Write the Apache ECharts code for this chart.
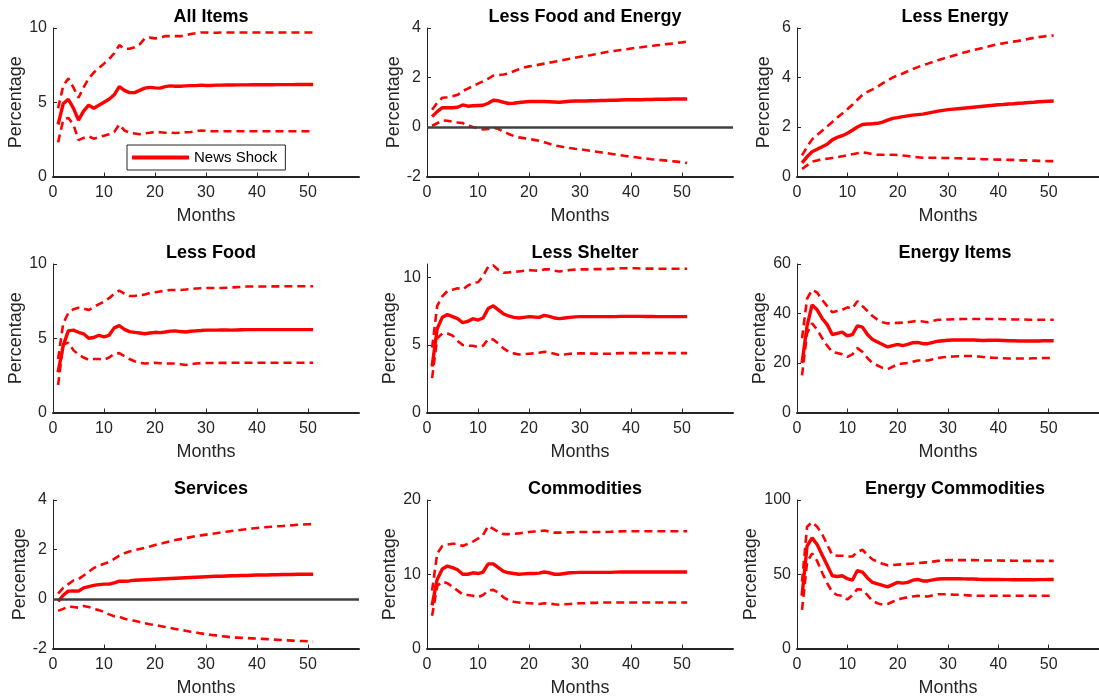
<!DOCTYPE html>
<html>
<head>
<meta charset="utf-8">
<title>News Shock Responses</title>
<script src="https://cdn.jsdelivr.net/npm/echarts@6/dist/echarts.min.js"></script>
<style>
  html, body { margin: 0; padding: 0; background: #fff; }
  #chart { width: 1099px; height: 700px; }
</style>
</head>
<body>
<div id="chart"></div>
<script>
// Impulse responses (percent) to a news shock, months 1..51, with upper/lower bands.
const PANEL_TITLES = ['All Items', 'Less Food and Energy', 'Less Energy',
  'Less Food', 'Less Shelter', 'Energy Items',
  'Services', 'Commodities', 'Energy Commodities'];
const Y_MIN = [0, -2, 0, 0, 0, 0, -2, 0, 0];
const Y_MAX = [10, 4, 6, 10, 11, 60, 4, 20, 100];
const Y_TICKS = [[0, 5, 10], [-2, 0, 2, 4], [0, 2, 4, 6], [0, 5, 10], [0, 5, 10],
  [0, 20, 40, 60], [-2, 0, 2, 4], [0, 10, 20], [0, 50, 100]];
const X_TICKS = [0, 10, 20, 30, 40, 50];
const LEGEND_LABEL = 'News Shock';

const allItemsMid = [3.5,4.9,5.2,4.6,3.8,4.4,4.8,4.6,4.8,5.0,5.2,5.5,6.05,5.8,5.65,5.65,5.8,5.95,6.0,5.97,5.95,6.05,6.1,6.08,6.08,6.1,6.12,6.12,6.15,6.13,6.13,6.15,6.15,6.16,6.16,6.17,6.17,6.17,6.18,6.18,6.18,6.18,6.18,6.19,6.19,6.19,6.19,6.2,6.2,6.2,6.2];
const allItemsUp = [4.6,6.1,6.6,6.0,5.3,6.0,6.6,7.0,7.3,7.6,7.9,8.3,8.85,8.6,8.6,8.7,8.9,9.3,9.35,9.3,9.35,9.45,9.45,9.45,9.45,9.5,9.6,9.65,9.7,9.7,9.68,9.68,9.7,9.7,9.7,9.7,9.7,9.7,9.7,9.7,9.7,9.7,9.7,9.7,9.7,9.7,9.7,9.7,9.7,9.7,9.7];
const allItemsLo = [2.3,3.8,3.95,3.5,2.45,2.6,2.7,2.55,2.65,2.75,2.85,3.0,3.5,3.1,2.95,2.9,2.85,2.9,2.95,3.0,2.98,2.95,2.95,2.93,2.95,2.98,3.0,3.05,3.1,3.08,3.05,3.05,3.05,3.05,3.05,3.05,3.05,3.05,3.05,3.05,3.05,3.05,3.05,3.05,3.05,3.05,3.05,3.05,3.05,3.05,3.05];

const lessFoodEnergyMid = [0.42,0.62,0.78,0.78,0.78,0.8,0.89,0.84,0.86,0.87,0.88,0.96,1.08,1.06,1.0,0.95,0.96,0.99,1.01,1.03,1.03,1.03,1.03,1.02,1.01,1.0,1.02,1.04,1.05,1.05,1.05,1.06,1.06,1.07,1.07,1.08,1.08,1.09,1.1,1.1,1.1,1.1,1.11,1.11,1.12,1.12,1.12,1.13,1.13,1.13,1.13];
const lessFoodEnergyUp = [0.7,0.98,1.18,1.2,1.24,1.3,1.45,1.55,1.65,1.75,1.85,1.95,2.08,2.1,2.12,2.16,2.25,2.33,2.4,2.45,2.48,2.52,2.56,2.6,2.64,2.68,2.72,2.76,2.8,2.84,2.87,2.9,2.94,2.98,3.02,3.05,3.08,3.11,3.14,3.17,3.2,3.22,3.25,3.27,3.3,3.32,3.35,3.37,3.4,3.42,3.45];
const lessFoodEnergyLo = [0.05,0.15,0.27,0.25,0.22,0.18,0.16,0.06,0.0,-0.05,-0.1,-0.08,-0.02,-0.08,-0.18,-0.28,-0.36,-0.42,-0.45,-0.48,-0.52,-0.56,-0.62,-0.68,-0.74,-0.78,-0.82,-0.85,-0.88,-0.9,-0.93,-0.96,-0.99,-1.02,-1.05,-1.08,-1.11,-1.14,-1.17,-1.2,-1.22,-1.25,-1.27,-1.3,-1.32,-1.34,-1.36,-1.38,-1.4,-1.43,-1.45];

const lessEnergyMid = [0.55,0.8,1.0,1.1,1.2,1.3,1.48,1.58,1.65,1.75,1.87,2.0,2.1,2.12,2.13,2.15,2.2,2.28,2.35,2.38,2.42,2.45,2.48,2.5,2.52,2.56,2.6,2.64,2.67,2.7,2.72,2.74,2.76,2.78,2.8,2.82,2.84,2.86,2.88,2.9,2.91,2.93,2.94,2.96,2.97,2.99,3.0,3.02,3.03,3.04,3.05];
const lessEnergyUp = [0.85,1.2,1.5,1.68,1.85,2.02,2.2,2.38,2.55,2.72,2.9,3.1,3.3,3.42,3.52,3.63,3.76,3.88,4.0,4.08,4.16,4.25,4.34,4.42,4.5,4.56,4.63,4.7,4.76,4.82,4.88,4.94,5.0,5.05,5.1,5.15,5.2,5.25,5.3,5.35,5.38,5.42,5.45,5.48,5.52,5.56,5.6,5.63,5.66,5.68,5.7];
const lessEnergyLo = [0.3,0.45,0.6,0.65,0.7,0.72,0.75,0.78,0.82,0.86,0.9,0.94,0.97,0.95,0.9,0.88,0.88,0.88,0.88,0.87,0.85,0.83,0.8,0.78,0.76,0.76,0.76,0.76,0.75,0.75,0.74,0.74,0.73,0.72,0.72,0.71,0.7,0.7,0.69,0.68,0.68,0.67,0.67,0.66,0.65,0.65,0.64,0.63,0.63,0.62,0.62];

const lessFoodMid = [2.7,4.5,5.5,5.55,5.4,5.3,5.0,5.05,5.2,5.1,5.2,5.7,5.85,5.6,5.45,5.4,5.35,5.3,5.35,5.4,5.38,5.42,5.48,5.5,5.45,5.42,5.47,5.5,5.52,5.55,5.55,5.55,5.56,5.56,5.55,5.56,5.57,5.58,5.58,5.58,5.58,5.58,5.58,5.58,5.58,5.58,5.58,5.58,5.58,5.58,5.58];
const lessFoodUp = [3.6,6.0,6.7,6.95,7.05,7.0,6.9,7.1,7.3,7.45,7.7,8.0,8.2,8.0,7.85,7.85,7.9,7.95,8.05,8.1,8.15,8.2,8.25,8.25,8.25,8.28,8.32,8.35,8.37,8.38,8.38,8.38,8.38,8.4,8.42,8.44,8.46,8.48,8.48,8.48,8.48,8.48,8.49,8.49,8.5,8.5,8.5,8.5,8.5,8.5,8.5];
const lessFoodLo = [1.85,4.6,4.7,4.2,3.9,3.7,3.55,3.6,3.6,3.55,3.7,3.95,4.0,3.8,3.6,3.45,3.35,3.3,3.32,3.35,3.32,3.3,3.3,3.3,3.25,3.2,3.25,3.3,3.32,3.33,3.33,3.33,3.34,3.34,3.35,3.35,3.35,3.35,3.35,3.35,3.35,3.35,3.35,3.35,3.35,3.35,3.35,3.35,3.35,3.35,3.35];

const lessShelterMid = [3.4,6.2,7.05,7.25,7.1,6.95,6.65,6.75,6.95,6.85,7.0,7.7,7.9,7.6,7.3,7.15,7.05,7.0,7.05,7.1,7.07,7.05,7.2,7.12,7.0,6.95,7.0,7.05,7.08,7.1,7.1,7.1,7.1,7.1,7.1,7.1,7.1,7.12,7.12,7.12,7.12,7.12,7.11,7.11,7.1,7.1,7.1,7.1,7.1,7.1,7.1];
const lessShelterUp = [4.8,7.9,8.6,9.0,9.1,9.2,9.1,9.4,9.6,9.65,10.1,10.8,10.9,10.55,10.35,10.38,10.42,10.45,10.5,10.55,10.52,10.5,10.6,10.6,10.5,10.45,10.5,10.55,10.58,10.6,10.6,10.6,10.62,10.62,10.62,10.64,10.66,10.68,10.68,10.68,10.68,10.67,10.66,10.66,10.65,10.65,10.65,10.65,10.65,10.65,10.65];
const lessShelterLo = [2.55,5.5,5.85,5.85,5.7,5.3,5.0,4.95,4.95,4.85,4.95,5.45,5.4,5.1,4.75,4.5,4.38,4.3,4.32,4.35,4.38,4.42,4.5,4.45,4.35,4.25,4.3,4.35,4.37,4.38,4.38,4.37,4.36,4.35,4.35,4.36,4.38,4.4,4.4,4.4,4.4,4.4,4.4,4.4,4.4,4.4,4.4,4.4,4.4,4.4,4.4];

const energyItemsMid = [20,35,43.5,41.5,38,35.5,31.5,32,32.5,31,31.5,35,34.5,31.5,29.5,28.5,27.5,26.5,27,27.5,27,27.5,28.2,28.3,27.8,27.8,28.3,28.8,29,29.2,29.3,29.3,29.3,29.3,29.3,29.2,29.1,29.2,29.2,29.2,29.1,29.0,29.0,28.9,28.9,28.9,28.9,28.9,29.0,29.0,29.0];
const energyItemsUp = [30,46,49.5,48.5,45.5,43,40.5,41,41.5,42.5,42,45,43,41,39,37.5,36.5,36,36.1,36.2,36.3,36.5,36.8,37,36.8,36.5,37,37.5,37.5,37.6,37.7,37.7,37.8,37.8,37.8,37.8,37.8,37.8,37.8,37.8,37.7,37.7,37.6,37.6,37.6,37.5,37.5,37.5,37.5,37.5,37.5];
const energyItemsLo = [15,32,36,33.5,30,27,24.5,24,23.5,22.5,23.5,26,24.5,22,20,19,18,17.5,18.5,19.5,19.8,20,20.5,21,21,21,21.5,22,22.3,22.5,22.6,22.7,22.8,22.8,22.8,22.6,22.4,22.2,22.1,22,21.9,21.8,21.8,21.8,21.8,21.8,21.9,21.9,22,22,22];

const servicesMid = [-0.1,0.15,0.32,0.33,0.32,0.45,0.5,0.55,0.58,0.6,0.6,0.65,0.72,0.72,0.73,0.76,0.77,0.78,0.79,0.8,0.81,0.82,0.83,0.84,0.85,0.86,0.87,0.88,0.89,0.9,0.91,0.92,0.92,0.93,0.94,0.94,0.95,0.95,0.96,0.97,0.97,0.97,0.98,0.98,0.99,0.99,0.99,1.0,1.0,1.0,1.0];
const servicesUp = [0.22,0.45,0.6,0.75,0.8,0.95,1.1,1.25,1.35,1.42,1.5,1.62,1.75,1.85,1.92,1.97,2.02,2.07,2.12,2.18,2.23,2.28,2.33,2.38,2.42,2.46,2.5,2.54,2.57,2.6,2.63,2.66,2.69,2.72,2.75,2.77,2.8,2.82,2.85,2.87,2.89,2.91,2.92,2.94,2.95,2.97,2.98,3.0,3.01,3.02,3.03];
const servicesLo = [-0.48,-0.4,-0.3,-0.32,-0.35,-0.28,-0.32,-0.4,-0.45,-0.52,-0.62,-0.7,-0.72,-0.8,-0.85,-0.88,-0.93,-0.98,-1.02,-1.05,-1.09,-1.13,-1.17,-1.21,-1.25,-1.28,-1.32,-1.35,-1.39,-1.42,-1.45,-1.47,-1.5,-1.52,-1.55,-1.56,-1.57,-1.58,-1.59,-1.6,-1.61,-1.62,-1.64,-1.65,-1.66,-1.67,-1.68,-1.69,-1.7,-1.71,-1.72];

const commoditiesMid = [5.8,9.3,10.7,11.1,10.9,10.6,10.0,10.0,10.2,10.1,10.3,11.4,11.4,10.9,10.4,10.2,10.1,10.0,10.05,10.1,10.1,10.15,10.3,10.2,10.0,10.0,10.1,10.2,10.22,10.25,10.25,10.25,10.25,10.25,10.25,10.25,10.28,10.3,10.3,10.3,10.3,10.3,10.3,10.3,10.3,10.3,10.3,10.3,10.3,10.3,10.3];
const commoditiesUp = [7.8,12.8,13.8,14.0,14.1,14.1,13.8,14.1,14.4,14.8,15.3,16.5,16.1,15.7,15.4,15.4,15.45,15.5,15.6,15.7,15.75,15.8,15.9,15.75,15.6,15.6,15.6,15.65,15.7,15.7,15.7,15.7,15.7,15.7,15.7,15.72,15.75,15.78,15.8,15.8,15.8,15.8,15.8,15.8,15.8,15.8,15.8,15.8,15.8,15.8,15.8];
const commoditiesLo = [4.4,8.4,9.0,8.8,8.3,7.8,7.3,7.2,7.1,6.9,7.2,7.8,7.9,7.5,6.9,6.5,6.3,6.2,6.15,6.1,6.05,6.0,6.1,6.05,5.95,5.9,5.95,6.0,6.05,6.1,6.1,6.15,6.15,6.2,6.2,6.2,6.2,6.2,6.2,6.2,6.2,6.2,6.2,6.2,6.2,6.2,6.2,6.2,6.2,6.2,6.2];

const energyCommMid = [35.5,69,74.5,70,63,56,49,48.5,49,47,46,52.5,51.5,47.5,44.5,43.5,42.5,41.5,43,44.5,44,44.5,46,46.5,45.5,45.5,46.2,46.8,47,47,47,47,46.9,46.8,46.8,46.6,46.5,46.5,46.5,46.5,46.4,46.4,46.3,46.3,46.3,46.3,46.3,46.4,46.4,46.5,46.5];
const energyCommUp = [45,82,85,82,77,70,63,62.5,62.5,62,62,65,66.5,63,60,58.5,57,56,56.2,56.5,56.7,57,57.2,57.5,57.8,58,58.5,59,59.3,59.5,59.5,59.5,59.5,59.5,59.5,59.4,59.3,59.3,59.3,59.3,59.2,59.2,59.1,59.1,59,59,59,59,59,59,59];
const energyCommLo = [26,58,64,59,51,44,38,36,35.5,33,36,40,39.5,36,32,30.5,29.5,30,31.5,33,33.8,34.5,35,35.5,35.2,35,35.8,36.5,36.5,36.5,36.3,36.2,36,35.8,35.5,35.5,35.5,35.5,35.5,35.5,35.5,35.5,35.5,35.5,35.5,35.5,35.5,35.5,35.5,35.5,35.5];

const MID = [allItemsMid, lessFoodEnergyMid, lessEnergyMid, lessFoodMid, lessShelterMid, energyItemsMid, servicesMid, commoditiesMid, energyCommMid];
const UP  = [allItemsUp, lessFoodEnergyUp, lessEnergyUp, lessFoodUp, lessShelterUp, energyItemsUp, servicesUp, commoditiesUp, energyCommUp];
const LO  = [allItemsLo, lessFoodEnergyLo, lessEnergyLo, lessFoodLo, lessShelterLo, energyItemsLo, servicesLo, commoditiesLo, energyCommLo];
const ZERO_LINE_PANELS = [1, 6];

// ---- layout ----
const COL_LEFT = [53, 427, 797];
const ROW_TOP = [28, 264, 500];
const PLOT_W = 306;
const PLOT_H = 148.5;
const RED = '#ff0000';
const INK = '#262626';
const FONT = '"Liberation Sans", Arial, Helvetica, sans-serif';

const toPairs = arr => arr.map((v, i) => [i + 1, v]);

const grids = [], xAxes = [], yAxes = [], titles = [], series = [];
for (let p = 0; p < 9; p++) {
  const col = p % 3, row = Math.floor(p / 3);
  grids.push({ left: COL_LEFT[col], top: ROW_TOP[row], width: PLOT_W, height: PLOT_H, containLabel: false });
  titles.push({
    text: PANEL_TITLES[p],
    left: COL_LEFT[col] + PLOT_W / 2,
    top: ROW_TOP[row] - 25,
    textAlign: 'center',
    textStyle: { fontFamily: FONT, fontSize: 18, fontWeight: 'bold', color: '#000' }
  });
  xAxes.push({
    type: 'value', gridIndex: p, min: 0, max: 60,
    name: 'Months', nameLocation: 'middle', nameGap: 31,
    nameTextStyle: { fontFamily: FONT, fontSize: 18, color: INK },
    axisLine: { show: true, onZero: false, lineStyle: { color: INK, width: 2 } },
    axisTick: { show: true, inside: true, length: 4, customValues: X_TICKS, lineStyle: { color: INK, width: 1 } },
    axisLabel: { show: true, customValues: X_TICKS, margin: 8, fontFamily: FONT, fontSize: 16, color: INK },
    splitLine: { show: false }
  });
  yAxes.push({
    type: 'value', gridIndex: p, min: Y_MIN[p], max: Y_MAX[p],
    name: 'Percentage', nameLocation: 'middle', nameGap: 24,
    nameTextStyle: { fontFamily: FONT, fontSize: 18, color: INK },
    axisLine: { show: true, onZero: false, lineStyle: { color: INK, width: 1 } },
    axisTick: { show: true, inside: true, length: 4, customValues: Y_TICKS[p], lineStyle: { color: INK, width: 1 } },
    axisLabel: { show: true, customValues: Y_TICKS[p], margin: 6, fontFamily: FONT, fontSize: 16, color: INK },
    splitLine: { show: false }
  });

  const common = { type: 'line', xAxisIndex: p, yAxisIndex: p, symbol: 'none', showSymbol: false, animation: false, silent: true };
  series.push(Object.assign({}, common, {
    name: 'upper' + p, data: toPairs(UP[p]),
    lineStyle: { color: RED, width: 2.6, type: [8, 5] }
  }));
  series.push(Object.assign({}, common, {
    name: 'lower' + p, data: toPairs(LO[p]),
    lineStyle: { color: RED, width: 2.6, type: [8, 5] }
  }));
  const mid = Object.assign({}, common, {
    name: p === 0 ? LEGEND_LABEL : 'mid' + p, data: toPairs(MID[p]),
    itemStyle: { color: RED },
    lineStyle: { color: RED, width: 3.4 }
  });
  if (ZERO_LINE_PANELS.includes(p)) {
    mid.markLine = {
      silent: true, symbol: ['none', 'none'], animation: false,
      label: { show: false },
      lineStyle: { color: '#404040', width: 2.5, type: 'solid' },
      data: [{ yAxis: 0 }]
    };
  }
  series.push(mid);
}

const chart = echarts.init(document.getElementById('chart'), null, { renderer: 'canvas' });
chart.setOption({
  backgroundColor: '#ffffff',
  animation: false,
  title: titles,
  grid: grids,
  xAxis: xAxes,
  yAxis: yAxes,
  legend: {
    data: [{ name: LEGEND_LABEL, icon: 'rect' }],
    left: 127, top: 145,
    orient: 'horizontal',
    itemWidth: 57, itemHeight: 4,
    padding: [5, 8, 5, 5],
    borderColor: INK, borderWidth: 1,
    backgroundColor: '#ffffff',
    selectedMode: false,
    itemStyle: { color: RED },
    textStyle: { fontFamily: FONT, fontSize: 15, color: '#000' }
  },
  series: series
});
</script>
</body>
</html>
